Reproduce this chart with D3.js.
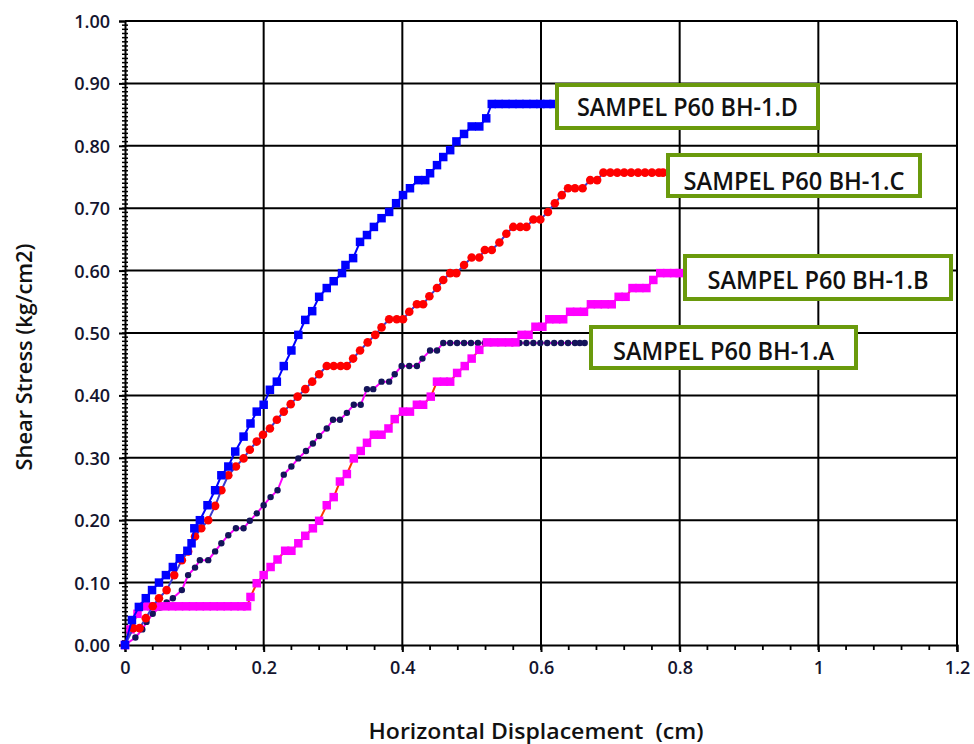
<!DOCTYPE html>
<meta charset="utf-8">
<script src="https://d3js.org/d3.v7.min.js"></script>
<style>
  body { margin: 0; background: #fff; }
  text { font-family: "Open Sans", sans-serif; }
</style>
<div id="chart"></div>
<script>
// horizontal displacement (cm), shear stress (kg/cm2)
var seriesA = [[0,0],[0.015,0.012],[0.025,0.025],[0.031,0.037],[0.040,0.050],[0.050,0.060],[0.060,0.068],[0.069,0.075],
  [0.082,0.088],[0.091,0.112],[0.101,0.124],[0.108,0.136],[0.120,0.136],[0.130,0.150],[0.139,0.163],[0.149,0.176],
  [0.160,0.187],[0.171,0.187],[0.180,0.199],[0.190,0.211],[0.200,0.224],[0.210,0.237],[0.220,0.248],[0.229,0.273],
  [0.240,0.286],[0.250,0.299],[0.261,0.311],[0.271,0.323],[0.280,0.335],[0.291,0.347],[0.300,0.361],[0.310,0.361],
  [0.320,0.372],[0.330,0.385],[0.340,0.385],[0.349,0.410],[0.358,0.410],[0.370,0.422],[0.381,0.422],[0.389,0.434],
  [0.399,0.447],[0.410,0.447],[0.421,0.447],[0.429,0.459],[0.440,0.472],[0.450,0.472],[0.459,0.484],[0.469,0.484],
  [0.479,0.484],[0.489,0.484],[0.499,0.484],[0.509,0.484],[0.519,0.484],[0.529,0.484],[0.539,0.484],[0.549,0.484],
  [0.559,0.484],[0.569,0.484],[0.579,0.484],[0.589,0.484],[0.599,0.484],[0.609,0.484],[0.619,0.484],[0.629,0.484],
  [0.639,0.484],[0.649,0.484],[0.656,0.484],[0.663,0.484]];

var seriesB = [[0,0],[0.008,0.025],[0.018,0.050],[0.028,0.062],[0.038,0.062],[0.048,0.062],[0.058,0.062],[0.068,0.062],
  [0.078,0.062],[0.088,0.062],[0.098,0.062],[0.108,0.062],[0.118,0.062],[0.128,0.062],[0.138,0.062],[0.148,0.062],
  [0.158,0.062],[0.168,0.062],[0.176,0.062],[0.181,0.077],[0.190,0.099],[0.200,0.112],[0.210,0.125],[0.220,0.137],
  [0.231,0.151],[0.240,0.151],[0.250,0.163],[0.260,0.175],[0.271,0.187],[0.280,0.199],[0.291,0.224],[0.301,0.237],
  [0.310,0.262],[0.320,0.274],[0.330,0.299],[0.340,0.311],[0.349,0.324],[0.359,0.337],[0.370,0.337],[0.380,0.347],
  [0.389,0.362],[0.401,0.374],[0.411,0.374],[0.421,0.385],[0.430,0.385],[0.441,0.398],[0.450,0.422],[0.460,0.422],
  [0.469,0.422],[0.479,0.436],[0.490,0.447],[0.500,0.459],[0.511,0.473],[0.522,0.485],[0.532,0.485],[0.543,0.485],
  [0.554,0.485],[0.563,0.485],[0.572,0.497],[0.582,0.497],[0.592,0.510],[0.602,0.510],[0.612,0.522],[0.622,0.522],
  [0.632,0.522],[0.642,0.534],[0.652,0.534],[0.662,0.534],[0.672,0.546],[0.682,0.546],[0.692,0.546],[0.702,0.546],
  [0.712,0.558],[0.722,0.558],[0.732,0.572],[0.742,0.572],[0.752,0.572],[0.762,0.585],[0.772,0.596],[0.782,0.596],
  [0.792,0.596],[0.800,0.596]];

var seriesC = [[0,0],[0.012,0.027],[0.021,0.027],[0.030,0.043],[0.040,0.062],[0.049,0.075],[0.060,0.088],[0.071,0.112],
  [0.082,0.136],[0.091,0.150],[0.101,0.174],[0.110,0.187],[0.120,0.200],[0.130,0.223],[0.139,0.248],[0.149,0.272],
  [0.160,0.286],[0.171,0.299],[0.180,0.313],[0.190,0.326],[0.199,0.337],[0.209,0.347],[0.219,0.361],[0.229,0.374],
  [0.239,0.386],[0.249,0.398],[0.260,0.410],[0.270,0.422],[0.280,0.434],[0.291,0.447],[0.301,0.447],[0.311,0.447],
  [0.320,0.447],[0.329,0.459],[0.339,0.472],[0.350,0.485],[0.361,0.497],[0.370,0.509],[0.381,0.522],[0.392,0.522],
  [0.401,0.522],[0.410,0.534],[0.421,0.546],[0.430,0.546],[0.439,0.559],[0.450,0.572],[0.459,0.585],[0.469,0.596],
  [0.478,0.596],[0.489,0.609],[0.500,0.621],[0.511,0.621],[0.519,0.633],[0.529,0.633],[0.540,0.645],[0.550,0.659],
  [0.560,0.670],[0.570,0.670],[0.579,0.670],[0.589,0.682],[0.599,0.682],[0.610,0.694],[0.620,0.708],[0.630,0.721],
  [0.639,0.732],[0.649,0.732],[0.660,0.732],[0.671,0.745],[0.681,0.745],[0.690,0.757],[0.700,0.757],[0.710,0.757],
  [0.720,0.757],[0.730,0.757],[0.740,0.757],[0.750,0.757],[0.760,0.757],[0.770,0.757],[0.776,0.757]];

var seriesD = [[0,0],[0.010,0.040],[0.020,0.061],[0.030,0.075],[0.039,0.088],[0.049,0.100],[0.059,0.112],[0.069,0.125],
  [0.079,0.139],[0.090,0.151],[0.096,0.163],[0.100,0.187],[0.108,0.200],[0.119,0.224],[0.130,0.248],[0.139,0.272],
  [0.149,0.286],[0.159,0.310],[0.171,0.334],[0.181,0.355],[0.190,0.374],[0.200,0.385],[0.209,0.409],[0.219,0.422],
  [0.229,0.447],[0.240,0.472],[0.250,0.497],[0.260,0.521],[0.270,0.535],[0.280,0.558],[0.291,0.572],[0.301,0.583],
  [0.313,0.596],[0.318,0.609],[0.329,0.620],[0.339,0.646],[0.349,0.657],[0.359,0.670],[0.370,0.684],[0.381,0.694],
  [0.391,0.708],[0.401,0.721],[0.411,0.732],[0.423,0.745],[0.433,0.745],[0.440,0.756],[0.450,0.769],[0.459,0.782],
  [0.469,0.793],[0.478,0.807],[0.489,0.819],[0.500,0.831],[0.511,0.831],[0.521,0.844],[0.529,0.867],[0.539,0.867],
  [0.549,0.867],[0.559,0.867],[0.569,0.867],[0.579,0.867],[0.589,0.867],[0.599,0.867],[0.609,0.867],[0.618,0.867]];

var seriesNames = ["SAMPEL P60 BH-1.A", "SAMPEL P60 BH-1.B", "SAMPEL P60 BH-1.C", "SAMPEL P60 BH-1.D"];
var xTicks = [0, 0.2, 0.4, 0.6, 0.8, 1, 1.2];
var yTicks = [0, 0.1, 0.2, 0.3, 0.4, 0.5, 0.6, 0.7, 0.8, 0.9, 1.0];

var margin = {top: 21, right: 17, bottom: 99, left: 125},
    width = 974 - margin.left - margin.right,
    height = 744 - margin.top - margin.bottom;

var svg = d3.select("#chart")
  .append("svg")
    .attr("width", 974)
    .attr("height", 744)
  .append("g")
    .attr("transform", "translate(" + margin.left + "," + margin.top + ")");

var x = d3.scaleLinear().domain([0, 1.2]).range([0, width]);
var y = d3.scaleLinear().domain([0, 1.0]).range([height, 0]);

// grid
svg.append("g").selectAll("line.v")
  .data(xTicks.slice(1))
  .enter().append("line")
    .attr("x1", function(d){ return x(d); }).attr("x2", function(d){ return x(d); })
    .attr("y1", 0).attr("y2", height)
    .attr("stroke", "#000").attr("stroke-width", 2);
svg.append("g").selectAll("line.h")
  .data(yTicks.slice(1))
  .enter().append("line")
    .attr("x1", 0).attr("x2", width)
    .attr("y1", function(d){ return y(d); }).attr("y2", function(d){ return y(d); })
    .attr("stroke", "#000").attr("stroke-width", 2);

// minor ticks
var yMinor = d3.range(0, 150).map(function(i){ return i / 150; });
svg.append("g").selectAll("line")
  .data(yMinor)
  .enter().append("line")
    .attr("x1", -3).attr("x2", 3)
    .attr("y1", function(d){ return y(d); }).attr("y2", function(d){ return y(d); })
    .attr("stroke", "#000").attr("stroke-width", 1.5);
var xMinor = d3.range(0, 31).map(function(i){ return i * 0.04; });
svg.append("g").selectAll("line")
  .data(xMinor)
  .enter().append("line")
    .attr("x1", function(d){ return x(d); }).attr("x2", function(d){ return x(d); })
    .attr("y1", height).attr("y2", height + 5)
    .attr("stroke", "#000").attr("stroke-width", 1.8);

// axes
var xAxis = svg.append("g")
  .attr("transform", "translate(0," + height + ")")
  .call(d3.axisBottom(x).tickValues(xTicks).tickSize(7).tickPadding(9).tickFormat(d3.format("~g")));
var yAxis = svg.append("g")
  .call(d3.axisLeft(y).tickValues(yTicks).tickSize(6).tickPadding(9).tickFormat(d3.format(".2f")));
[xAxis, yAxis].forEach(function(a){
  a.select(".domain").attr("stroke", "#000").attr("stroke-width", 2);
  a.selectAll(".tick line").attr("stroke", "#000").attr("stroke-width", 2);
  a.selectAll(".tick text")
    .attr("fill", "#14142e")
    .style("font-family", "'Open Sans', sans-serif")
    .style("font-size", "18px")
    .style("font-weight", "600");
});
yAxis.selectAll(".tick text").attr("dy", "0.36em");

// series: marker colour, line colour, shape
var styles = [
  {data: seriesA, line: "#ff00ff", fill: "#14145a", shape: "dot", size: 3.2},
  {data: seriesB, line: "#ff3300", fill: "#ff00ff", shape: "square", size: 8.5},
  {data: seriesC, line: "#3a3ad0", fill: "#ff0000", shape: "circle", size: 4.3},
  {data: seriesD, line: "#0000ff", fill: "#0000ff", shape: "square", size: 8.5}
];

var line = d3.line()
  .x(function(d){ return x(d[0]); })
  .y(function(d){ return y(d[1]); });

styles.forEach(function(s){
  svg.append("path")
    .datum(s.data)
    .attr("d", line)
    .attr("fill", "none")
    .attr("stroke", s.line)
    .attr("stroke-width", 2);
  var g = svg.append("g");
  if (s.shape === "square") {
    g.selectAll("rect").data(s.data).enter().append("rect")
      .attr("x", function(d){ return x(d[0]) - s.size / 2; })
      .attr("y", function(d){ return y(d[1]) - s.size / 2; })
      .attr("width", s.size).attr("height", s.size)
      .attr("fill", s.fill);
  } else {
    g.selectAll("circle").data(s.data).enter().append("circle")
      .attr("cx", function(d){ return x(d[0]); })
      .attr("cy", function(d){ return y(d[1]); })
      .attr("r", s.size)
      .attr("fill", s.fill);
  }
});

// top border
svg.append("line").attr("x1", 0).attr("x2", width).attr("y1", 0).attr("y2", 0)
  .attr("stroke", "#000").attr("stroke-width", 2);

// text boxes next to each curve
var boxes = [
  {name: seriesNames[3], x: 557, y: 85, w: 261, h: 43, base: 116},
  {name: seriesNames[2], x: 668, y: 155, w: 252, h: 41, base: 190},
  {name: seriesNames[1], x: 685, y: 256, w: 266, h: 43, base: 289},
  {name: seriesNames[0], x: 591, y: 327, w: 265, h: 41, base: 360}
];
var root = d3.select("#chart svg");
boxes.forEach(function(b){
  root.append("rect")
    .attr("x", b.x).attr("y", b.y).attr("width", b.w).attr("height", b.h)
    .attr("fill", "#fff").attr("stroke", "#6a9a0c").attr("stroke-width", 4);
  root.append("text")
    .attr("x", b.x + b.w / 2).attr("y", b.base)
    .attr("text-anchor", "middle")
    .attr("textLength", 221).attr("lengthAdjust", "spacingAndGlyphs")
    .style("font-size", "25px").style("font-weight", "600")
    .attr("fill", "#111")
    .text(b.name);
});

// axis titles
root.append("text")
  .attr("x", 536).attr("y", 739)
  .attr("text-anchor", "middle")
  .attr("textLength", 335).attr("lengthAdjust", "spacingAndGlyphs")
  .style("font-size", "21px").style("font-weight", "600")
  .style("white-space", "pre")
  .attr("fill", "#111")
  .text("Horizontal Displacement  (cm)");
root.append("text")
  .attr("transform", "translate(32,357) rotate(-90)")
  .attr("text-anchor", "middle")
  .attr("textLength", 227).attr("lengthAdjust", "spacingAndGlyphs")
  .style("font-size", "21px").style("font-weight", "600")
  .attr("fill", "#111")
  .text("Shear Stress (kg/cm2)");
</script>
